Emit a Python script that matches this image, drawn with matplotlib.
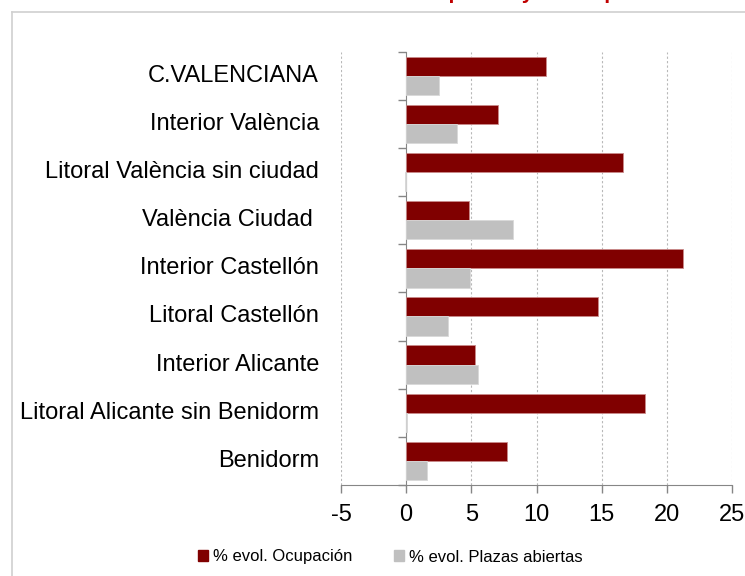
import matplotlib
matplotlib.use("Agg")
import matplotlib.pyplot as plt
from matplotlib.patches import Patch
from matplotlib.lines import Line2D

plt.rcParams['font.family'] = ['Liberation Sans', 'DejaVu Sans']

# datos
zonas = ["C.VALENCIANA", "Interior València", "Litoral València sin ciudad",
         "València Ciudad ", "Interior Castellón", "Litoral Castellón",
         "Interior Alicante", "Litoral Alicante sin Benidorm", "Benidorm"]
ocupacion = [10.7, 7.05, 16.65, 4.85, 21.25, 14.75, 5.25, 18.3, 7.75]
plazas = [2.55, 3.9, -0.12, 8.2, 4.9, 3.2, 5.5, 0.1, 1.6]
ticks_x = [-5, 0, 5, 10, 15, 20, 25]

rojo = '#800000'
gris = '#c0c0c0'

fig = plt.figure(figsize=(7.45, 5.76), dpi=100)
ax = fig.add_axes([341 / 745, 1 - 485 / 576, 391 / 745, (485 - 51.7) / 576])

pos = list(range(len(zonas)))
ax.barh([p - 0.2 for p in pos], ocupacion, height=0.4, color=rojo,
        edgecolor='#c98a8a', linewidth=0.6, zorder=3)
ax.barh([p + 0.2 for p in pos], plazas, height=0.4, color=gris,
        edgecolor='#d8d8d8', linewidth=0.6, zorder=3)

ax.set_xlim(-5, 25)
ax.set_ylim(len(zonas) - 0.5, -0.5)
ax.set_xticks(ticks_x)
ax.set_xticklabels([str(t) for t in ticks_x], fontsize=17)
ax.tick_params(axis='x', length=6, width=1, color='#868686', pad=8)

# rejilla vertical discontinua
for t in ticks_x:
    if t != 0:
        ax.axvline(t, color='#b8b8b8', linestyle=(0, (2, 2)), linewidth=0.8, zorder=1)

# eje de categorias en x=0
for s in ['top', 'right']:
    ax.spines[s].set_visible(False)
ax.spines['left'].set_position(('data', 0))
ax.spines['left'].set_color('#868686')
ax.spines['bottom'].set_color('#868686')
ax.set_yticks([p - 0.5 for p in pos] + [len(zonas) - 0.5])
ax.set_yticklabels([])
ax.tick_params(axis='y', length=6, width=1, color='#868686')

for p, z in zip(pos, zonas):
    ax.text(-0.056, p, z, transform=ax.get_yaxis_transform(), ha='right',
            va='center', fontsize=17)

# leyenda
handles = [Patch(color=rojo), Patch(color=gris)]
fig.legend(handles, ['% evol. Ocupación', '% evol. Plazas abiertas'],
           loc='center', bbox_to_anchor=(390 / 745, 1 - 557 / 576), ncol=2,
           frameon=False, fontsize=12, handlelength=0.6, handleheight=0.6,
           handletextpad=0.3, columnspacing=2.5)

# marco del grafico
fig.add_artist(Line2D([12 / 745, 12 / 745], [0, 1 - 11.5 / 576],
                      color='#d0d0d0', linewidth=1.2))
fig.add_artist(Line2D([12 / 745, 1], [1 - 11.5 / 576, 1 - 11.5 / 576],
                      color='#d0d0d0', linewidth=1.2))

# titulo (cortado en la parte superior, como en el original)
fig.text(252 / 745, 1 + 1 / 576, 'Evolución de la ocupación y de las plazas',
         color='#c00000', fontsize=15, fontweight='bold', ha='left', va='baseline')

fig.savefig('out.png', dpi=100)
